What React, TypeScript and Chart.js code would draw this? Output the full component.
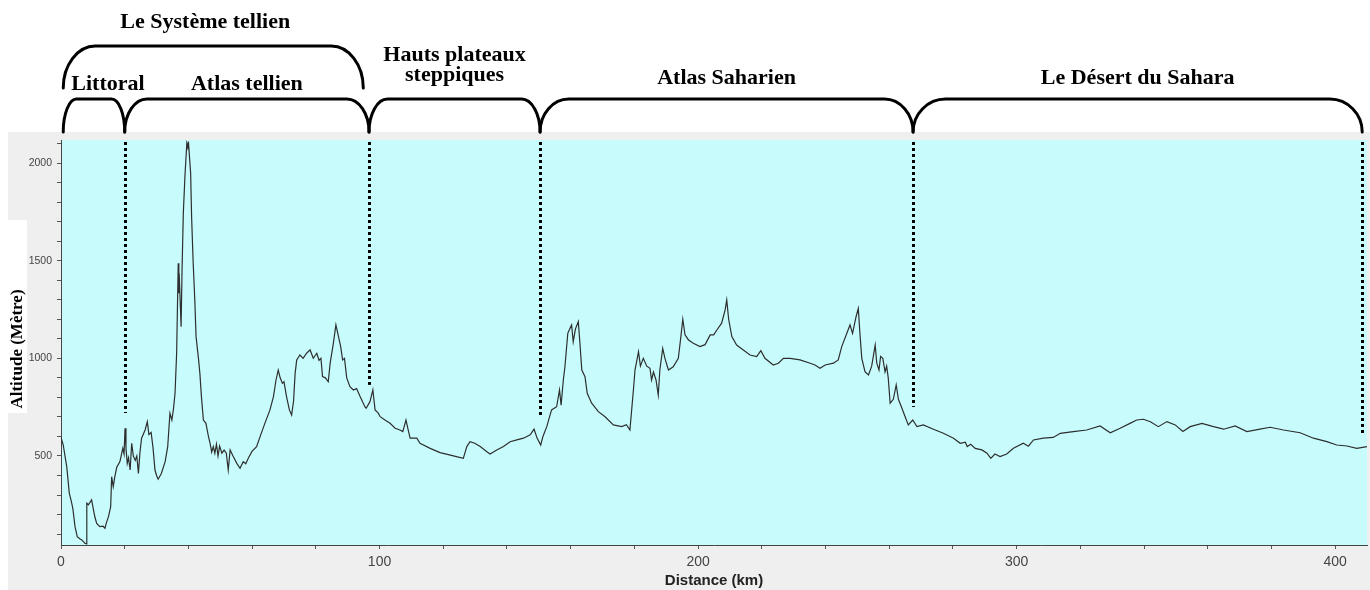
import React, { useEffect, useRef } from 'react';
import { Chart, registerables } from 'chart.js';

Chart.register(...registerables);

// ---- Data (distance in km, altitude in metres) ----
const DIST_KM = [
  0, 0.7, 1.8, 2.6, 3.2, 3.7, 4.4, 5.1, 6.0, 6.5, 7.5, 8.0, 8.1, 8.6, 9.1, 9.6, 10.1, 10.6, 11.2, 12.2,
  13.2, 13.8, 14.2, 14.9, 15.6, 15.9, 16.4, 16.9, 17.5, 18.5, 19.4, 19.8, 20.1, 20.4, 20.8, 21.2, 21.7, 22.2, 22.7, 23.3,
  23.8, 24.3, 24.8, 25.3, 26.4, 27.1, 27.6, 28.3, 28.9, 29.5, 30.0, 30.5, 31.5, 32.7, 33.5, 34.2, 34.8, 35.3, 35.8, 36.3,
  36.8, 37.0, 37.1, 37.4, 37.7, 38.0, 38.4, 38.9, 39.5, 39.8, 40.0, 40.3, 40.7, 41.0, 41.5, 42.0, 42.4, 43.2, 43.6, 44.1,
  44.7, 45.5, 46.3, 46.8, 47.3, 47.8, 48.3, 48.8, 49.3, 49.8, 50.5, 51.2, 51.9, 52.5, 53.1, 54.0, 55.2, 56.2, 57.2, 58.0,
  58.8, 59.9, 61.4, 62.5, 64.0, 65.6, 66.7, 67.5, 68.2, 68.8, 69.5, 70.0, 70.8, 71.7, 72.4, 73.0, 73.5, 74.0, 75.0, 76.0,
  77.1, 78.2, 79.2, 80.3, 81.0, 81.6, 82.1, 83.0, 83.9, 84.5, 85.5, 86.3, 87.0, 87.8, 88.4, 89.0, 89.7, 90.7, 91.8, 92.8,
  93.9, 95.4, 95.8, 97.0, 97.9, 98.6, 99.6, 100.2, 101.7, 103.3, 104.9, 106.4, 107.3, 108.3, 108.9, 109.6, 111.7, 112.7, 115.9, 119.0,
  123.2, 126.3, 127.4, 128.4, 129.9, 131.6, 133.7, 134.7, 136.8, 138.9, 141.0, 143.1, 145.2, 147.3, 148.5, 149.5, 150.6, 151.3, 152.5, 154.0,
  155.6, 156.5, 157.0, 157.7, 158.2, 159.1, 159.8, 160.3, 160.8, 161.5, 162.4, 162.9, 163.5, 164.5, 165.2, 166.6, 168.7, 170.8, 173.4, 176.0,
  177.5, 178.6, 179.7, 180.2, 181.3, 181.9, 182.8, 183.9, 184.9, 185.4, 186.0, 186.8, 187.5, 188.0, 188.9, 189.6, 190.7, 192.2, 193.8, 194.6,
  195.2, 195.9, 197.0, 198.5, 200.6, 202.2, 203.8, 204.9, 205.9, 207.4, 208.5, 209.0, 209.6, 210.6, 212.1, 214.2, 216.3, 218.4, 219.7, 221.0,
  223.6, 225.2, 226.8, 228.9, 232.0, 235.2, 236.7, 238.3, 239.9, 242.5, 244.0, 245.1, 246.7, 247.7, 248.5, 249.6, 250.3, 250.8, 251.4, 252.4,
  253.5, 254.5, 255.6, 256.1, 256.8, 257.3, 258.0, 258.7, 259.2, 259.7, 260.3, 261.3, 262.2, 262.9, 264.0, 265.0, 266.0, 267.4, 268.7, 270.7,
  273.9, 277.0, 280.2, 282.3, 283.9, 284.5, 285.6, 287.0, 289.1, 290.7, 291.9, 293.2, 294.8, 296.9, 299.0, 302.1, 303.7, 305.3, 308.4, 311.5,
  313.7, 317.8, 322.0, 326.2, 329.4, 332.5, 335.6, 337.7, 339.8, 342.0, 344.5, 347.2, 349.8, 352.2, 354.5, 358.2, 361.8, 365.0, 368.6, 372.3,
  376.4, 379.6, 383.8, 389.0, 393.2, 397.4, 400.5, 403.7, 406.8, 410.0,
];

const ALT_M = [
  596, 556, 445, 310, 270, 233, 138, 87, 75, 70, 53, 50, 258, 250, 262, 275, 233, 190, 155, 138,
  140, 130, 155, 189, 240, 394, 343, 394, 442, 471, 539, 510, 642, 540, 462, 490, 428, 565, 500, 477,
  500, 411, 520, 591, 633, 676, 610, 620, 540, 428, 400, 381, 410, 471, 548, 719, 684, 740, 821, 1026,
  1487, 1333, 1436, 1300, 1162, 1450, 1743, 1930, 2101, 2080, 2110, 2040, 1947, 1725, 1487, 1300, 1111, 992, 923, 800,
  684, 667, 599, 565, 520, 548, 514, 560, 500, 550, 514, 530, 514, 428, 531, 500, 462, 437, 471, 460,
  488, 522, 548, 599, 667, 736, 804, 889, 940, 900, 872, 880, 804, 736, 710, 780, 923, 992, 1017, 1000,
  1026, 1043, 1000, 1026, 990, 1000, 906, 900, 880, 975, 1077, 1171, 1120, 1060, 992, 1000, 900, 855, 838, 845,
  804, 752, 744, 778, 838, 736, 719, 701, 684, 667, 642, 633, 625, 684, 640, 591, 591, 565, 539, 517,
  500, 488, 548, 573, 565, 548, 522, 510, 531, 548, 573, 582, 591, 608, 637, 590, 556, 600, 650, 736,
  752, 838, 760, 889, 957, 1128, 1154, 1171, 1085, 1150, 1188, 1080, 940, 906, 821, 770, 727, 701, 659, 650,
  660, 633, 838, 940, 1034, 960, 1000, 960, 949, 889, 930, 889, 812, 940, 1051, 1000, 940, 957, 1000, 1111,
  1200, 1120, 1094, 1077, 1060, 1070, 1120, 1120, 1145, 1180, 1248, 1299, 1200, 1111, 1068, 1043, 1017, 1009, 1039, 1000,
  966, 975, 1000, 1000, 992, 975, 966, 949, 966, 975, 992, 1060, 1128, 1171, 1128, 1213, 1256, 1130, 1000, 932,
  915, 960, 1068, 975, 940, 1010, 1000, 930, 960, 900, 770, 790, 864, 790, 744, 701, 659, 684, 650, 659,
  637, 616, 591, 565, 570, 548, 560, 539, 531, 514, 488, 510, 497, 510, 539, 565, 550, 582, 591, 595,
  616, 625, 633, 654, 619, 642, 667, 684, 688, 675, 650, 676, 659, 625, 650, 667, 650, 637, 654, 625,
  637, 647, 633, 619, 591, 573, 556, 551, 539, 548,
];

// Axis ranges and labelled ticks
const X_MIN = 0;
const X_MAX = 410;
const X_STEP = 20;
const X_LABELED = [0, 100, 200, 300, 400];
const Y_MIN = 44;
const Y_MAX = 2118;
const Y_STEP = 100;
const Y_LABELED = [500, 1000, 1500, 2000];

// Regions (km boundaries) and dotted dividers
const REGION_BOUNDS_KM = [0.7, 20, 96.7, 150.4, 267.5, 408.5];
const REGION_NAMES = [['Littoral'], ['Atlas tellien'], ['Hauts plateaux', 'steppiques'], ['Atlas Saharien'], ['Le Désert du Sahara']];
const GROUP_NAME = 'Le Système tellien';
const GROUP_BOUNDS_KM = [0.7, 94.9];
const DIVIDER_KM = [20, 96.7, 150.4, 267.5, 408.3];
const DIVIDER_END_M = [720, 864, 700, 751, 608];

const X_TITLE = 'Distance (km)';
const Y_TITLE = 'Altitude (Mètre)';

function drawBracket(ctx: CanvasRenderingContext2D, x0: number, x1: number, yTop: number, yBot: number, r: number) {
  const h = yBot - yTop;
  ctx.beginPath();
  ctx.moveTo(x0, yBot);
  ctx.bezierCurveTo(x0, yBot - 0.55 * h, x0 + r * 0.45, yTop, x0 + r, yTop);
  ctx.lineTo(x1 - r, yTop);
  ctx.bezierCurveTo(x1 - r * 0.45, yTop, x1, yBot - 0.55 * h, x1, yBot);
  ctx.stroke();
}

function snapTicks(step: number) {
  return (s: any) => {
    const out: any[] = [];
    s.ticks.forEach((t: any) => {
      const v = Math.round(t.value / step) * step;
      if (Math.abs(t.value - v) < 1e-6 * step) out.push({ value: v });
    });
    s.ticks = out;
  };
}

const decorPlugin = {
  id: 'decor',
  beforeDraw(chart: any) {
    const { ctx, chartArea: a, width, height } = chart;
    ctx.save();
    ctx.fillStyle = '#ffffff';
    ctx.fillRect(0, 0, width, height);
    ctx.fillStyle = '#efefef';
    ctx.fillRect(8, 132, width - 8, height - 132);
    ctx.fillStyle = '#ffffff';
    ctx.fillRect(0, 220, 27, 193);
    ctx.fillStyle = '#c8fcfc';
    ctx.fillRect(a.left, a.top, a.right - a.left, a.bottom - a.top);
    ctx.restore();
  },
  afterDatasetsDraw(chart: any) {
    const { ctx, chartArea: a, scales } = chart;
    ctx.save();
    ctx.strokeStyle = '#000000';
    ctx.lineWidth = 3;
    ctx.setLineDash([3, 3]);
    DIVIDER_KM.forEach((km, i) => {
      const x = Math.round(scales.x.getPixelForValue(km)) + 0.5;
      const yEnd = scales.y.getPixelForValue(DIVIDER_END_M[i]);
      ctx.beginPath();
      ctx.moveTo(x, a.top + 2);
      ctx.lineTo(x, yEnd);
      ctx.stroke();
    });
    ctx.restore();
  },
  afterDraw(chart: any) {
    const { ctx, scales } = chart;
    const px = (km: number) => scales.x.getPixelForValue(km);
    ctx.save();
    ctx.strokeStyle = '#000000';
    ctx.lineWidth = 3;
    ctx.lineJoin = 'round';
    ctx.lineCap = 'round';
    for (let i = 0; i < REGION_NAMES.length; i++) {
      const x0 = px(REGION_BOUNDS_KM[i]);
      const x1 = px(REGION_BOUNDS_KM[i + 1]);
      const r = 10 + (x1 - x0) * 0.05;
      drawBracket(ctx, x0, x1, 99, 132, r);
    }
    drawBracket(ctx, px(GROUP_BOUNDS_KM[0]), px(GROUP_BOUNDS_KM[1]), 46, 88, 32);

    ctx.fillStyle = '#000000';
    ctx.font = 'bold 22px "Liberation Serif", "Times New Roman", serif';
    ctx.textAlign = 'center';
    ctx.textBaseline = 'alphabetic';
    const gx = (px(GROUP_BOUNDS_KM[0]) + px(GROUP_BOUNDS_KM[1])) / 2 - 8;
    ctx.fillText(GROUP_NAME, gx, 28);
    const baselines = [[90], [90], [61, 81], [84], [84]];
    const xOffsets = [14, 0, 0, 0, 0];
    REGION_NAMES.forEach((lines, i) => {
      const cx = (px(REGION_BOUNDS_KM[i]) + px(REGION_BOUNDS_KM[i + 1])) / 2 + xOffsets[i];
      lines.forEach((t, j) => ctx.fillText(t, cx, baselines[i][j]));
    });

    ctx.translate(18, 349);
    ctx.rotate(-Math.PI / 2);
    ctx.font = 'bold 17px "Liberation Serif", "Times New Roman", serif';
    ctx.textBaseline = 'middle';
    ctx.fillText(Y_TITLE, 0, 0);
    ctx.restore();
  },
};

export default function App() {
  const canvasRef = useRef<HTMLCanvasElement | null>(null);

  useEffect(() => {
    document.body.style.margin = '0';
    const canvas = canvasRef.current;
    if (!canvas) return;
    const data = DIST_KM.map((d, i) => ({ x: d, y: ALT_M[i] }));
    const chart = new Chart(canvas, {
      type: 'line',
      data: {
        datasets: [
          {
            data,
            borderColor: '#2e2e2e',
            borderWidth: 1.2,
            pointRadius: 0,
            fill: false,
            tension: 0,
          },
        ],
      },
      options: {
        animation: false,
        responsive: false,
        devicePixelRatio: 1,
        events: [],
        layout: { padding: { top: 140, right: 3, left: 0, bottom: 0 } },
        plugins: { legend: { display: false }, tooltip: { enabled: false }, title: { display: false } },
        scales: {
          x: {
            type: 'linear',
            min: X_MIN,
            max: X_MAX,
            afterFit: (s: any) => { s.height = 45; },
            afterBuildTicks: snapTicks(X_STEP),
            ticks: {
              stepSize: X_STEP,
              includeBounds: false,
              autoSkip: false,
              maxRotation: 0,
              padding: 5,
              color: '#444444',
              font: { family: '"Liberation Sans", Arial, sans-serif', size: 14 },
              callback: (v: any) => (X_LABELED.includes(Math.round(Number(v))) ? String(Math.round(Number(v))) : ''),
            },
            grid: { drawOnChartArea: false, drawTicks: true, tickLength: 4, tickColor: '#555555' },
            border: { display: true, color: '#444444', width: 1 },
            title: {
              display: true,
              text: X_TITLE,
              color: '#222222',
              padding: { top: 0, bottom: 0 },
              font: { family: '"Liberation Sans", Arial, sans-serif', size: 15, weight: 'bold' },
            },
          },
          y: {
            type: 'linear',
            min: Y_MIN,
            max: Y_MAX,
            afterFit: (s: any) => { s.width = 61; },
            afterBuildTicks: snapTicks(Y_STEP),
            ticks: {
              stepSize: Y_STEP,
              includeBounds: false,
              autoSkip: false,
              padding: 5,
              color: '#444444',
              font: { family: '"Liberation Sans", Arial, sans-serif', size: 10.5 },
              callback: (v: any) => (Y_LABELED.includes(Math.round(Number(v))) ? String(Math.round(Number(v))) : ''),
            },
            grid: { drawOnChartArea: false, drawTicks: true, tickLength: 4, tickColor: '#555555' },
            border: { display: true, color: '#444444', width: 1 },
          },
        },
      },
      plugins: [decorPlugin],
    });
    return () => chart.destroy();
  }, []);

  return (
    <div style={{ width: 1370, height: 590 }}>
      <canvas ref={canvasRef} width={1370} height={590} style={{ display: 'block' }} />
    </div>
  );
}
